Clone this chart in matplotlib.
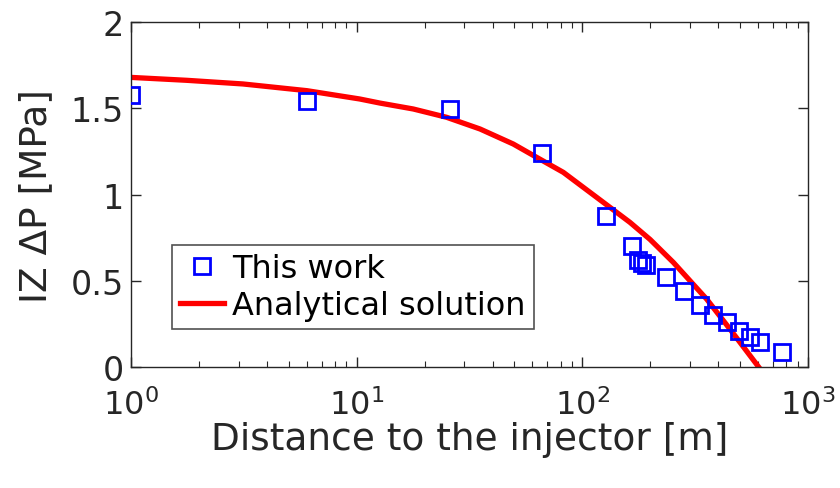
import numpy as np
import matplotlib
matplotlib.use('Agg')
import matplotlib.pyplot as plt

# "This work" markers
dist_work = [1.0, 6.0, 26, 66, 127, 166, 176, 183, 192, 234, 283, 333, 380, 438, 495, 555, 615, 770]
dp_work = [1.575, 1.545, 1.495, 1.24, 0.875, 0.70, 0.62, 0.605, 0.59, 0.52, 0.44, 0.362, 0.30, 0.26,
           0.21, 0.175, 0.145, 0.087]

# analytical solution curve
dist_ana = [1, 1.77, 3.13, 6.02, 10.3, 12.7, 17.8, 25.0, 35.2, 49.4, 62.7, 82.3, 115.7, 162.5,
            199.5, 253, 355.6, 451, 605]
dp_ana = [1.679, 1.662, 1.641, 1.602, 1.554, 1.530, 1.496, 1.448, 1.380, 1.293, 1.216, 1.129, 0.984,
          0.839, 0.740, 0.607, 0.394, 0.220, 0.0]

y_ticks = [0, 0.5, 1, 1.5, 2]
y_ticklabels = ['0', '0.5', '1', '1.5', '2']

dark = '#262626'
plt.rcParams['font.family'] = ['DejaVu Sans']

fig = plt.figure(figsize=(8.4, 4.89), dpi=100)
ax = fig.add_axes([0.156, 0.247, 0.806, 0.706])

ax.plot(dist_work, dp_work, linestyle='none', marker='s', markersize=12, markerfacecolor='none',
        markeredgecolor='#0000ff', markeredgewidth=2, label='This work', zorder=3)
ax.plot(dist_ana, dp_ana, color='#ff0000', linewidth=3.8, label='Analytical solution', zorder=2)

ax.set_xscale('log')
ax.set_xlim(1, 1000)
ax.set_ylim(0, 2)
ax.set_yticks(y_ticks)
ax.set_yticklabels(y_ticklabels)

ax.tick_params(which='both', direction='in', top=True, right=True, colors=dark, labelsize=24)
ax.tick_params(which='major', length=7, width=1)
ax.tick_params(which='minor', length=4, width=0.8)
ax.tick_params(axis='x', which='both', pad=15)
ax.tick_params(axis='y', pad=5)
for lbl in ax.get_xticklabels():
    lbl.set_fontsize(23)
for sp in ax.spines.values():
    sp.set_color(dark)
    sp.set_linewidth(1)

ax.set_xlabel('Distance to the injector [m]', fontsize=27, color=dark, labelpad=0)
ax.set_ylabel('IZ \u0394P [MPa]', fontsize=27, color=dark, labelpad=12)

leg = ax.legend(loc='lower left', bbox_to_anchor=(0.06, 0.11), fontsize=23, frameon=True,
                fancybox=False, edgecolor=dark, handlelength=1.4, handletextpad=0.25,
                borderpad=0.25, labelspacing=0.2, borderaxespad=0)
leg.get_frame().set_linewidth(1.2)

fig.savefig('out.png', dpi=100)
